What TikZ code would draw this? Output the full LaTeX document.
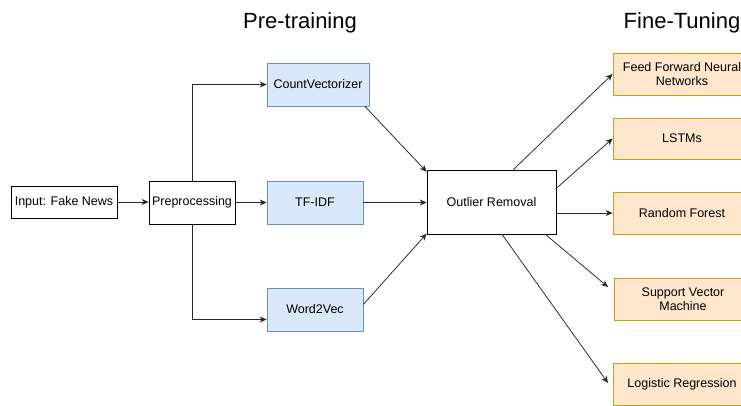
\documentclass[tikz,border=0pt]{standalone}
\usepackage{fontspec}
\setmainfont{Liberation Sans}
\usetikzlibrary{arrows.meta,calc}
\definecolor{bluefill}{HTML}{DAE8FC}
\definecolor{bluedraw}{HTML}{6C8EBF}
\definecolor{orfill}{HTML}{FFE6CC}
\definecolor{ordraw}{HTML}{D79B00}
\begin{document}
\begin{tikzpicture}[x=1pt,y=-1pt,
  every node/.style={font=\fontsize{12.5}{14}\selectfont, inner sep=1pt, align=center},
  plainbox/.style={draw=black, fill=white, line width=0.8pt},
  bluebox/.style={draw=bluedraw, fill=bluefill, line width=0.8pt},
  orbox/.style={draw=ordraw, fill=orfill, line width=0.8pt, minimum width=138pt, minimum height=42pt},
  conn/.style={draw=black!85, line width=0.75pt, -{Stealth[length=7pt,width=6pt]}},
  title/.style={font=\fontsize{22}{26}\selectfont, anchor=base}
]
\clip (0,0) rectangle (741,405);
\fill[white] (0,0) rectangle (741,405);

\node[title] (t1) at (300,28) {Pre-training};
\node[title] (t2) at (682,28) {Fine-Tuning};

\node[plainbox, minimum width=106pt, minimum height=32pt] (inp) at (64,202) {Input: Fake News};
\node[plainbox, minimum width=86pt, minimum height=43pt] (prep) at (192,202.5) {Preprocessing};
\node[bluebox, minimum width=102pt, minimum height=43pt] (cv) at (318,84.5) {CountVectorizer};
\node[bluebox, minimum width=96pt, minimum height=43pt] (tfidf) at (315,202.5) {TF-IDF};
\node[bluebox, minimum width=96pt, minimum height=43pt] (w2v) at (315,309.5) {Word2Vec};
\node[plainbox, minimum width=129pt, minimum height=64pt] (outl) at (491.5,202) {Outlier Removal};

\node[orbox] (ffnn) at (682,74) {Feed Forward Neural\\Networks};
\node[orbox, minimum height=41pt] (lstm) at (682,138.5) {LSTMs};
\node[orbox] (rf) at (682,213) {Random Forest};
\node[orbox] (svm) at (683,299) {Support Vector\\Machine};
\node[orbox] (lr) at (682,384) {Logistic Regression};

\coordinate (svmend) at (608,287);
\coordinate (lrend) at (608,383);

\draw[conn] (inp.east) -- (inp.east -| prep.west);
\draw[conn] (prep.north) |- (cv.west);
\draw[conn] (prep.east) -- (tfidf.west);
\draw[conn] (prep.south) |- ([yshift=-10pt]w2v.west);

\draw[conn] (cv.-25) -- (outl.155);
\draw[conn] (tfidf.east) -- (tfidf.east -| outl.west);
\draw[conn] (w2v.6) -- (outl.-154);

\draw[conn] (outl.56) -- (ffnn.west);
\draw[conn] (outl.12) -- (lstm.west);
\draw[conn] (outl.east |- rf.west) -- (rf.west);
\draw[conn] (outl.-31) -- (svmend);
\draw[conn] (outl.-72) -- (lrend);
\end{tikzpicture}
\end{document}
